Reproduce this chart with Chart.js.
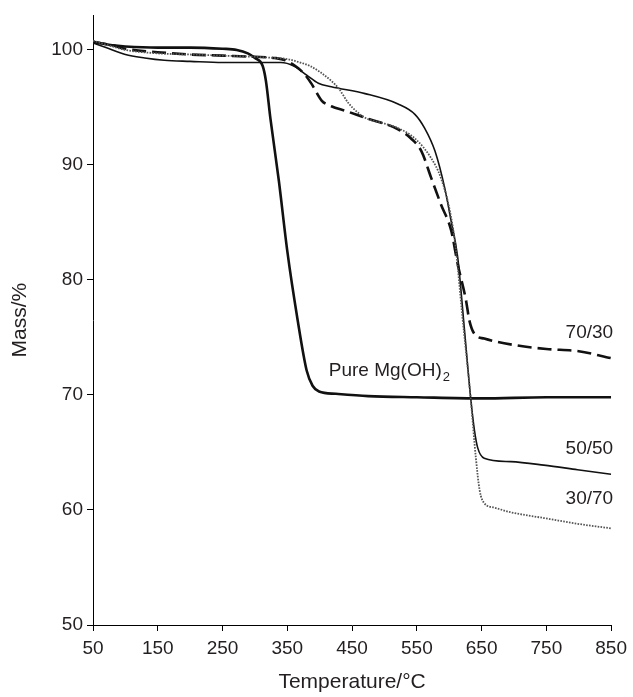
<!DOCTYPE html>
<html>
<head>
<meta charset="utf-8">
<script src="https://cdn.jsdelivr.net/npm/chart.js@4.4.1/dist/chart.umd.min.js"></script>
<style>
html,body{margin:0;padding:0;background:#fff;}
#wrap{width:633px;height:697px;}
</style>
</head>
<body>
<div id="wrap"><canvas id="c" width="633" height="697"></canvas></div>
<script>
// ---- Data ----
const xTicks = [50, 150, 250, 350, 450, 550, 650, 750, 850];
const yTicks = [50, 60, 70, 80, 90, 100];

const mgT = [50, 60, 80, 100, 150, 200, 250, 272, 289, 300, 312, 317, 324, 337, 350, 366, 380, 389, 399, 425, 475, 550, 650, 750, 850];
const mgM = [100.7, 100.6, 100.4, 100.3, 100.2, 100.2, 100.1, 100.0, 99.7, 99.3, 98.6, 97.3, 94.0, 88.6, 82.5, 76.5, 72.1, 70.8, 70.3, 70.1, 69.9, 69.8, 69.7, 69.8, 69.8];

const s5050T = [50, 70, 100, 130, 160, 200, 250, 300, 340, 360, 380, 398, 418, 470, 521, 547, 562, 578, 593, 603, 613, 623, 633, 639, 644, 654, 695, 746, 798, 850];
const s5050M = [100.6, 100.2, 99.6, 99.3, 99.1, 99.0, 98.9, 98.9, 98.9, 98.6, 97.8, 97.1, 96.8, 96.2, 95.3, 94.4, 93.2, 91.2, 88.0, 85.1, 82.0, 76.0, 69.8, 66.9, 65.4, 64.5, 64.2, 63.9, 63.5, 63.1];

const s3070T = [50, 80, 100, 150, 200, 250, 300, 330, 350, 370, 385, 400, 418, 430, 444, 458, 470, 500, 521, 547, 572, 587, 601, 610, 620, 633, 641, 647, 654, 670, 695, 746, 798, 850];
const s3070M = [100.8, 100.3, 100.0, 99.7, 99.6, 99.5, 99.4, 99.3, 99.2, 98.9, 98.6, 98.1, 97.3, 96.6, 95.4, 94.6, 94.1, 93.6, 93.2, 92.3, 90.6, 88.9, 86.0, 82.8, 77.0, 69.8, 64.6, 61.7, 60.6, 60.2, 59.8, 59.3, 58.8, 58.4];

const s7030T = [50, 80, 100, 150, 200, 250, 300, 330, 347, 367, 378, 388, 403, 418, 440, 470, 521, 541, 557, 572, 587, 603, 613, 626, 631, 639, 654, 705, 750, 800, 850];
const s7030M = [100.7, 100.4, 100.1, 99.8, 99.6, 99.5, 99.4, 99.3, 99.1, 98.4, 97.8, 97.0, 95.6, 95.1, 94.7, 94.1, 93.1, 92.3, 91.2, 88.9, 86.6, 84.3, 81.4, 78.2, 76.5, 75.3, 74.9, 74.3, 74.0, 73.8, 73.2];

const seriesNames = ["30/70", "70/30", "50/50", "Pure Mg(OH)2"];

function pts(t, m) { return t.map((v, i) => ({x: v, y: m[i]})); }

const TXT = '#231f20';
const FONT = '"Liberation Sans", Arial, Helvetica, sans-serif';

const labelPlugin = {
  id: 'curveLabels',
  afterDatasetsDraw(chart) {
    const {ctx, scales: {x, y}} = chart;
    ctx.save();
    ctx.fillStyle = TXT;
    ctx.font = '19px ' + FONT;
    ctx.textBaseline = 'middle';
    ctx.textAlign = 'right';
    const rightLabels = [["70/30", 75.4], ["50/50", 65.3], ["30/70", 61.0]];
    rightLabels.forEach(([t, v]) => ctx.fillText(t, x.getPixelForValue(850) + 2, y.getPixelForValue(v)));
    // Pure Mg(OH)2 with subscript
    ctx.textAlign = 'left';
    const px = x.getPixelForValue(414), py = y.getPixelForValue(72.1);
    const main = 'Pure Mg(OH)';
    ctx.fillText(main, px, py);
    const w = ctx.measureText(main).width;
    ctx.font = '13px ' + FONT;
    ctx.fillText('2', px + w + 1, py + 7);
    ctx.restore();
  }
};

new Chart(document.getElementById('c'), {
  type: 'line',
  data: {
    datasets: [
      {label: seriesNames[0], data: pts(s3070T, s3070M), borderColor: '#555', borderWidth: 1.8, borderDash: [1.6, 1.3]},
      {label: seriesNames[1], data: pts(s7030T, s7030M), borderColor: '#111', borderWidth: 2.6, borderDash: [14, 6]},
      {label: seriesNames[2], data: pts(s5050T, s5050M), borderColor: '#111', borderWidth: 1.6},
      {label: seriesNames[3], data: pts(mgT, mgM), borderColor: '#111', borderWidth: 2.6}
    ]
  },
  options: {
    responsive: false,
    animation: false,
    events: [],
    elements: {point: {radius: 0}, line: {cubicInterpolationMode: 'monotone', fill: false}},
    layout: {padding: {top: 12, right: 19, left: 0, bottom: 0}},
    plugins: {legend: {display: false}, tooltip: {enabled: false}},
    scales: {
      x: {
        type: 'linear', min: 50, max: 850,
        afterFit(s) { s.height = 72; },
        afterBuildTicks(s) { s.ticks = xTicks.map(v => ({value: v})); },
        grid: {display: true, drawOnChartArea: false, drawTicks: true, tickLength: 6, color: '#000', lineWidth: 1},
        border: {display: true, color: '#000', width: 1},
        ticks: {color: TXT, font: {family: FONT, size: 19}, padding: 6, maxRotation: 0, autoSkip: false},
        title: {display: true, text: 'Temperature/°C', color: TXT, font: {family: FONT, size: 21}, padding: {top: 0, bottom: 2}}
      },
      y: {
        type: 'linear', min: 50, max: 103,
        afterFit(s) { s.width = 93; },
        afterBuildTicks(s) { s.ticks = yTicks.map(v => ({value: v})); },
        grid: {display: true, drawOnChartArea: false, drawTicks: true, tickLength: 6, color: '#000', lineWidth: 1},
        border: {display: true, color: '#000', width: 1},
        ticks: {color: TXT, font: {family: FONT, size: 19}, padding: 4, autoSkip: false},
        title: {display: true, text: 'Mass/%', color: TXT, font: {family: FONT, size: 21}, padding: {top: 8, bottom: 0}}
      }
    }
  },
  plugins: [labelPlugin]
});
</script>
</body>
</html>
